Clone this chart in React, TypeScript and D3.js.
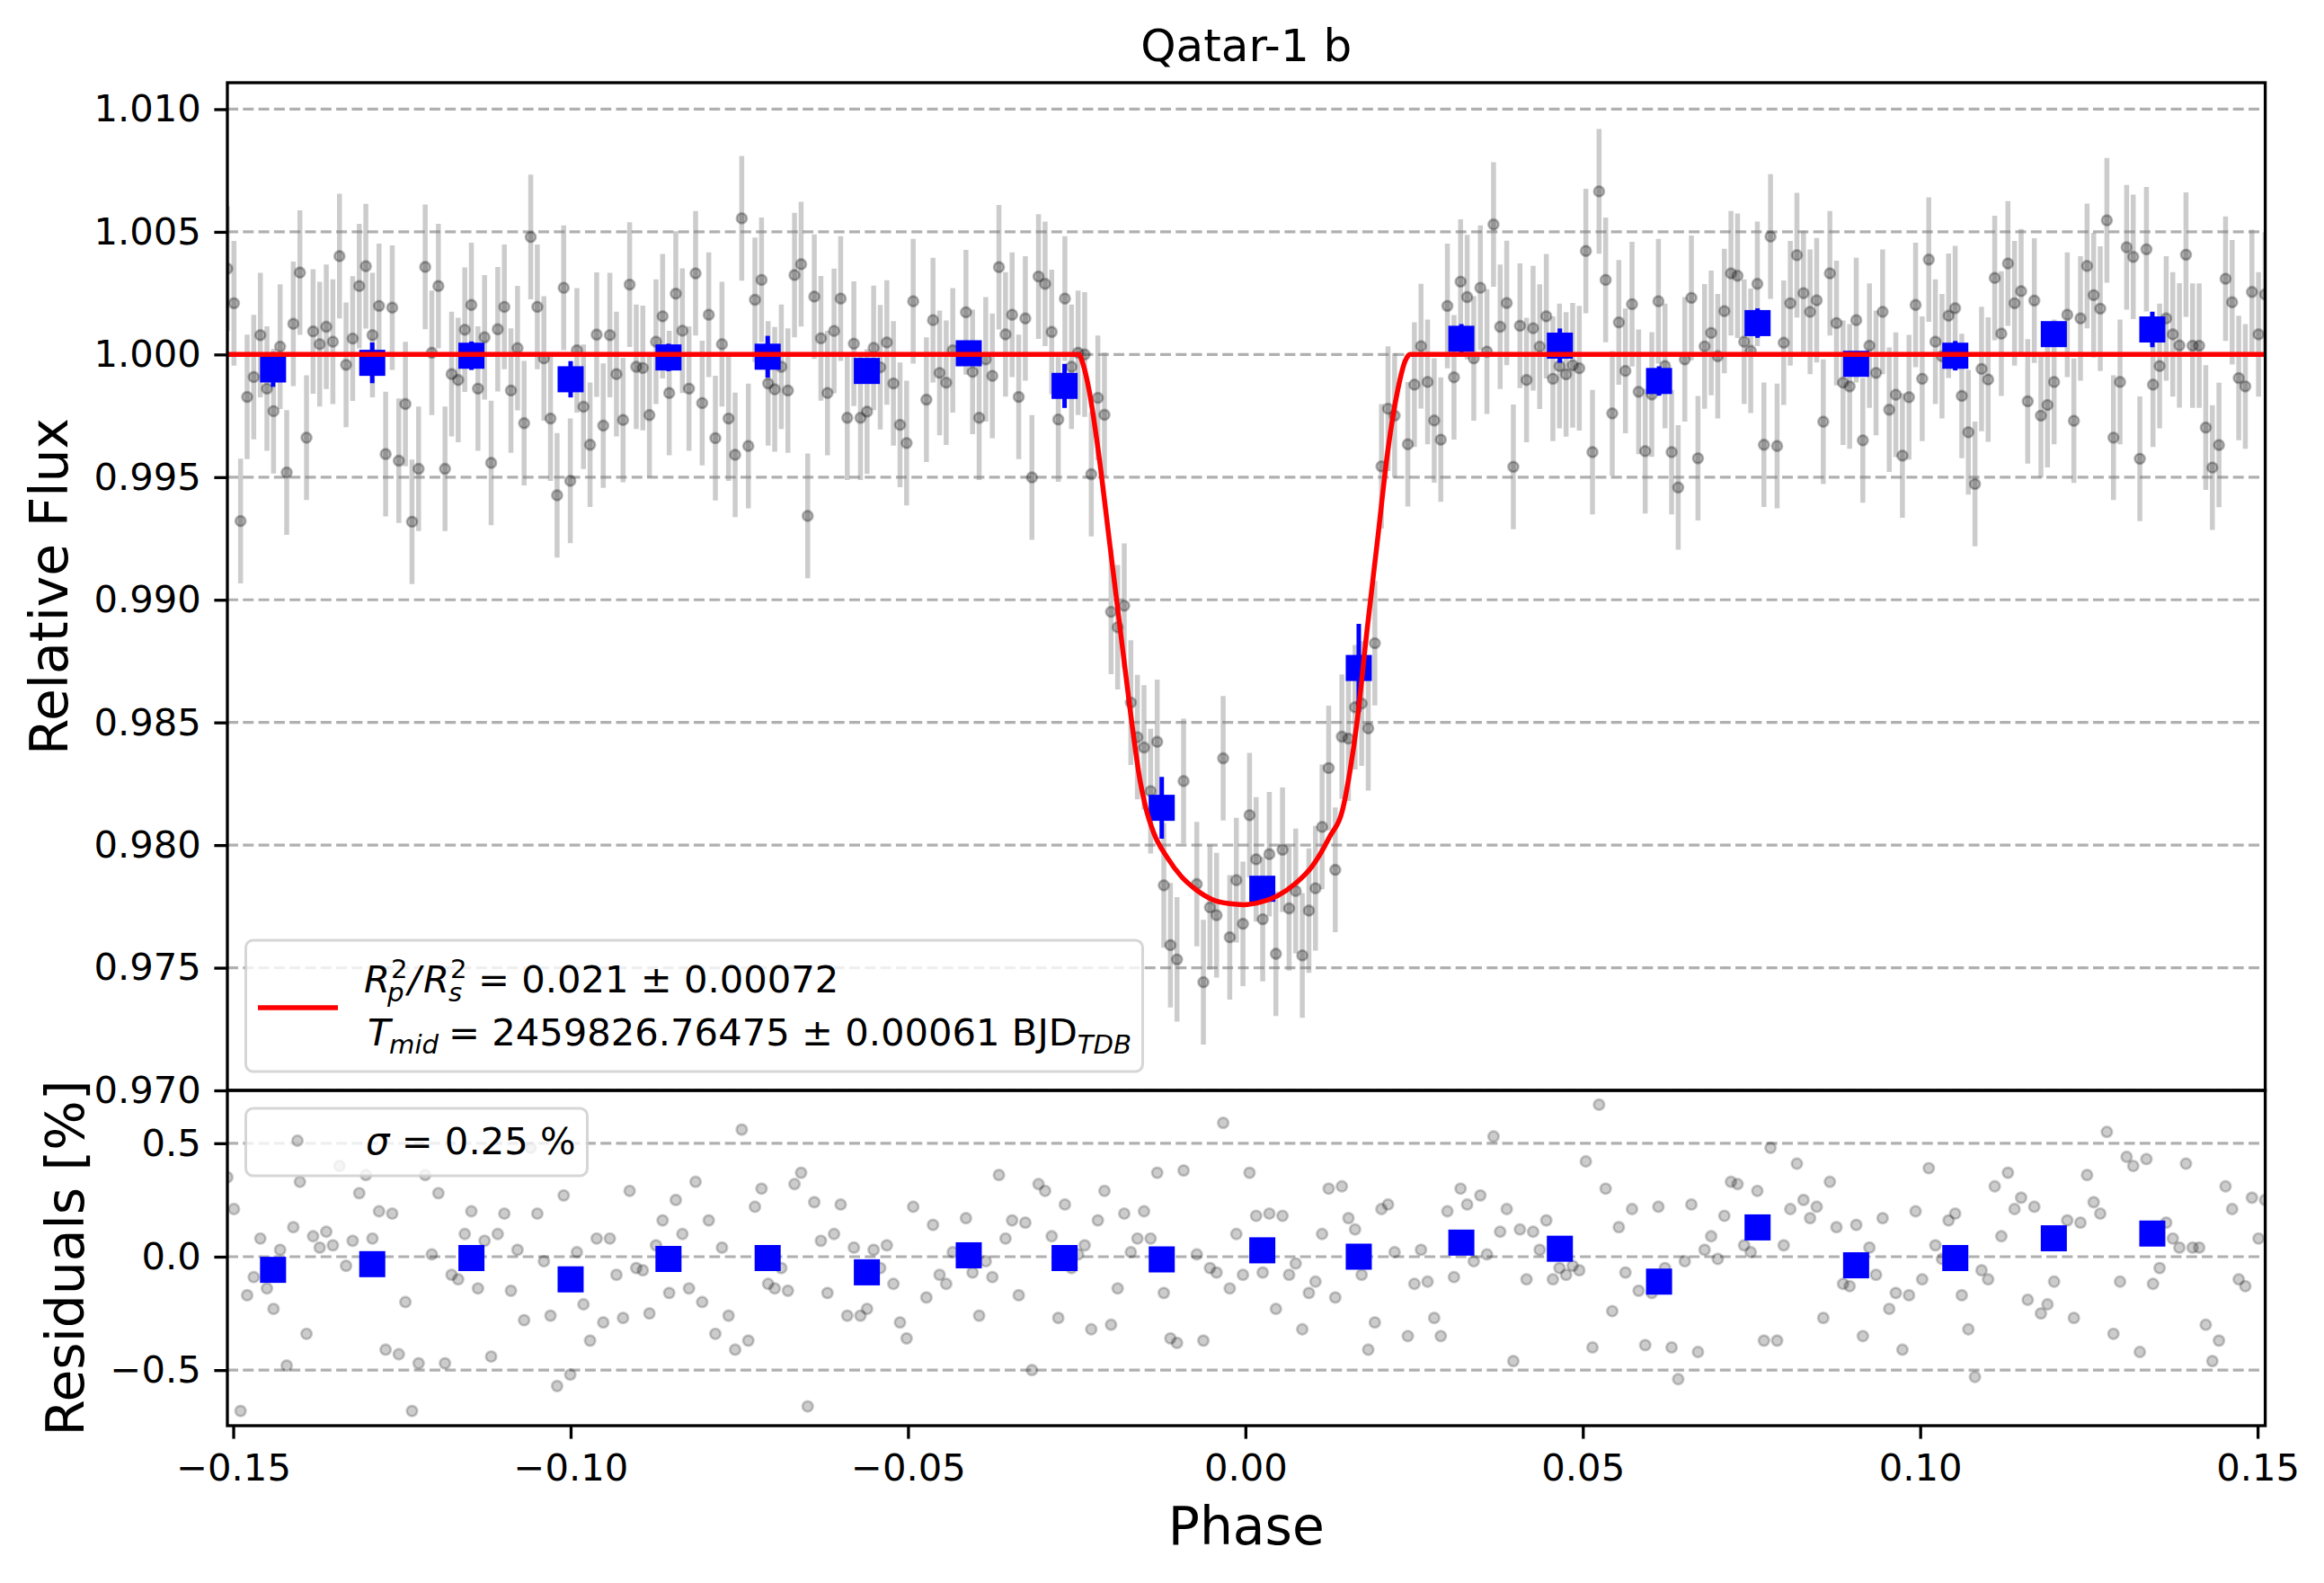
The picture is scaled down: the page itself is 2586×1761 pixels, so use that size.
import React, { useEffect, useRef } from 'react';
import * as d3 from 'd3';

// phase grid of the 2-min cadence light curve
const PHASE_START = -0.15087;
const PHASE_STEP = 0.0009773;

// relative flux per cadence (null = gap)
const FLUX: (number | null)[] = [
  1.0035, 1.00209, 0.99321, 0.99827, 0.99908, 1.00079, 0.99861, 0.99769, 1.00032, 0.99519,
  1.00125, 1.00334, 0.99661, 1.00094, 1.00042, 1.00113, 1.00052, 1.00401, 0.99958, 1.00065,
  1.00279, 1.0036, 1.00079, 1.00198, 0.99594, 1.00191, 0.99567, 0.99798, 0.99318, 0.99534,
  1.00357, 1.00007, 1.00279, 0.99534, 0.9992, 0.99896, 1.00101, 1.00202, 0.99861, 1.0007,
  0.99558, 1.00103, 1.00194, 0.99853, 1.00026, 0.9972, 1.00479, 1.00194, 0.99984, 0.99739,
  0.99426, 1.00272, 0.99485, 1.00017, 0.99787, 0.99632, 1.00081, 0.9971, 1.00079, 0.9992,
  0.99733, 1.00285, 0.9995, 0.99945, 0.99753, 1.00052, 1.00156, 0.99843, 1.00248, 1.00097,
  0.99861, 1.00331, 0.99802, 1.00162, 0.99659, 1.00042, 0.99739, 0.99591, 1.00555, 0.99627,
  1.00223, 1.00304, 0.99882, 0.99858, 0.9995, 0.99853, 1.00324, 1.00368, 0.99342, 1.00236,
  1.00066, 0.99843, 1.00096, 1.00228, 0.99742, 1.00044, 0.99742, 0.99767, 1.00027, 0.99948,
  1.00049, 0.99882, 0.99713, 0.99639, 1.00217, null, 0.99816, 1.0014, 0.99925, 0.99885,
  1.00017, null, 1.00172, 0.99929, 0.99742, 0.9998, 0.99913, 1.00356, 1.00082, 1.00162,
  0.99827, 1.00147, 0.99499, 1.00318, 1.00288, 1.00092, 0.99735, 1.00228, 0.9995, 1.00007,
  1.0, 0.99512, 0.99823, 0.99754, 0.98951, 0.98888, 0.98976, 0.98581, 0.9844, 0.98398,
  0.9822, 0.98421, 0.97836, 0.97592, 0.97534, 0.98261, null, 0.97841, 0.97441, 0.97746,
  0.97714, 0.98354, 0.97624, 0.97857, 0.97679, 0.98122, 0.97942, 0.97698, 0.97963, 0.97557,
  0.97981, 0.97742, 0.97813, 0.9755, 0.97733, 0.97824, 0.98074, 0.98314, 0.97899, 0.98442,
  0.98434, 0.98562, 0.98577, 0.98476, 0.98823, 0.99544, 0.99779, 0.99751, null, 0.99634,
  0.99877, 1.00034, 0.99888, 0.99731, 0.99653, 1.00198, 0.99907, 1.00297, 1.00234, 0.99984,
  1.00272, 1.00012, 1.0053, 1.00113, 1.0021, 0.99542, 1.00117, 0.99896, 1.00107, 1.00032,
  1.00156, 0.99901, 0.99953, 0.99919, 0.99956, 0.99944, 1.00422, 0.99602, 1.00665, 1.00304,
  0.9976, 1.00131, 0.99933, 1.00205, 0.99848, 0.99606, 0.99837, 1.00217, 0.99953, 0.99602,
  0.99458, 0.9998, 1.00231, 0.99577, 1.00033, 1.00088, 0.99993, 1.00177, 1.00331, 1.00321,
  1.00052, 1.00015, 1.00288, 0.99632, 1.00481, 0.99627, 1.00048, 1.00209, 1.00405, 1.0025,
  1.00174, 1.00221, 0.99726, 1.00331, 1.00128, 0.99885, 0.9987, 1.0014, 0.9965, 1.00036,
  0.99925, 1.00174, 0.99775, 0.99836, 0.99588, 0.99826, 1.00202, 0.99901, 1.00387, 1.00052,
  0.99993, 1.00158, 1.00189, 0.99831, 0.99683, 0.99472, 0.99941, 0.99898, 1.00312, 1.00085,
  1.00371, 1.00209, 1.00258, 0.99809, 1.0022, 0.99751, 0.99794, 0.99888, null, 1.00162,
  0.9973, 1.00147, 1.00361, 1.00242, 1.00187, 1.00547, 0.99661, 0.99888, 1.00437, 1.00398,
  0.99575, 1.00429, 0.99877, 0.99953, 1.00147, 1.00082, 1.00037, 1.00407, 1.00036, 1.00036,
  0.99702, 0.99539, 0.99631, 1.00309, 1.00213, 0.99904, 0.9987, 1.00255, 1.00082, 1.00245,
];
const FLUX_ERR = 0.00254;

// residuals in percent, same cadences
const RESIDUAL: (number | null)[] = [
  0.35, 0.21, -0.68, -0.17, -0.09, 0.08, -0.14, -0.23, 0.03, -0.48,
  0.13, 0.33, -0.34, 0.09, 0.04, 0.11, 0.05, 0.4, -0.04, 0.07,
  0.28, 0.36, 0.08, 0.2, -0.41, 0.19, -0.43, -0.2, -0.68, -0.47,
  0.36, 0.01, 0.28, -0.47, -0.08, -0.1, 0.1, 0.2, -0.14, 0.07,
  -0.44, 0.1, 0.19, -0.15, 0.03, -0.28, 0.48, 0.19, -0.02, -0.26,
  -0.57, 0.27, -0.52, 0.02, -0.21, -0.37, 0.08, -0.29, 0.08, -0.08,
  -0.27, 0.29, -0.05, -0.06, -0.25, 0.05, 0.16, -0.16, 0.25, 0.1,
  -0.14, 0.33, -0.2, 0.16, -0.34, 0.04, -0.26, -0.41, 0.56, -0.37,
  0.22, 0.3, -0.12, -0.14, -0.05, -0.15, 0.32, 0.37, -0.66, 0.24,
  0.07, -0.16, 0.1, 0.23, -0.26, 0.04, -0.26, -0.23, 0.03, -0.05,
  0.05, -0.12, -0.29, -0.36, 0.22, null, -0.18, 0.14, -0.08, -0.12,
  0.02, null, 0.17, -0.07, -0.26, -0.02, -0.09, 0.36, 0.08, 0.16,
  -0.17, 0.15, -0.5, 0.32, 0.29, 0.09, -0.27, 0.23, -0.05, 0.01,
  0.05, -0.32, 0.16, 0.29, -0.3, -0.14, 0.19, 0.02, 0.08, 0.2,
  0.08, 0.37, -0.16, -0.36, -0.38, 0.38, null, 0.01, -0.37, -0.05,
  -0.07, 0.59, -0.14, 0.1, -0.08, 0.37, 0.18, -0.07, 0.19, -0.23,
  0.18, -0.08, -0.03, -0.32, -0.16, -0.11, 0.1, 0.3, -0.18, 0.31,
  0.17, 0.12, -0.08, -0.41, -0.29, 0.21, 0.23, 0.02, null, -0.35,
  -0.12, 0.03, -0.11, -0.27, -0.35, 0.2, -0.09, 0.3, 0.23, -0.02,
  0.27, 0.01, 0.53, 0.11, 0.21, -0.46, 0.12, -0.1, 0.11, 0.03,
  0.16, -0.1, -0.05, -0.08, -0.04, -0.06, 0.42, -0.4, 0.67, 0.3,
  -0.24, 0.13, -0.07, 0.21, -0.15, -0.39, -0.16, 0.22, -0.05, -0.4,
  -0.54, -0.02, 0.23, -0.42, 0.03, 0.09, -0.01, 0.18, 0.33, 0.32,
  0.05, 0.02, 0.29, -0.37, 0.48, -0.37, 0.05, 0.21, 0.41, 0.25,
  0.17, 0.22, -0.27, 0.33, 0.13, -0.12, -0.13, 0.14, -0.35, 0.04,
  -0.08, 0.17, -0.23, -0.16, -0.41, -0.17, 0.2, -0.1, 0.39, 0.05,
  -0.01, 0.16, 0.19, -0.17, -0.32, -0.53, -0.06, -0.1, 0.31, 0.09,
  0.37, 0.21, 0.26, -0.19, 0.22, -0.25, -0.21, -0.11, null, 0.16,
  -0.27, 0.15, 0.36, 0.24, 0.19, 0.55, -0.34, -0.11, 0.44, 0.4,
  -0.42, 0.43, -0.12, -0.05, 0.15, 0.08, 0.04, 0.41, 0.04, 0.04,
  -0.3, -0.46, -0.37, 0.31, 0.21, -0.1, -0.13, 0.26, 0.08, 0.25,
];

// binned points (blue squares)
const BIN_PHASE = [
  -0.1441, -0.1294, -0.1147, -0.1, -0.0855, -0.0708, -0.0561, -0.041, -0.0268, -0.0124,
  0.0025, 0.0168, 0.032, 0.0466, 0.0613, 0.0759, 0.0905, 0.1052, 0.1198, 0.1344,
];
const BIN_FLUX = [
  0.99939, 0.99966, 0.99995, 0.99899, 0.99988, 0.99991, 0.99933, 1.00005, 0.99872, 0.98152,
  0.97822, 0.98722, 1.00064, 1.00036, 0.99892, 1.00128, 0.99962, 0.99995, 1.00083, 1.00102,
];
const BIN_ERR = [
  0.00071, 0.00083, 0.00058, 0.00074, 0.00056, 0.00085, 0.0004, 0.0004, 0.0009, 0.00126,
  0.0004, 0.0018, 0.0006, 0.0007, 0.0006, 0.0006, 0.0005, 0.0006, 0.0005, 0.00072,
];
const BIN_RESIDUAL = [
  -0.058, -0.033, -0.006, -0.1, -0.01, -0.006, -0.069, 0.006, -0.006, -0.012,
  0.028, 0.0, 0.062, 0.035, -0.11, 0.129, -0.038, -0.006, 0.081, 0.102,
];

// transit model (red line)
const MODEL_PHASE = [
  -0.1509, -0.0247, -0.024, -0.0232, -0.0217, -0.0202, -0.0187, -0.0171, -0.0156, -0.0148,
  -0.0136, -0.0115, -0.0095, -0.0074, -0.0049, -0.0023, -0.0003, 0.0022, 0.0048, 0.0073,
  0.0099, 0.0124, 0.0145, 0.0155, 0.0165, 0.018, 0.0196, 0.0211, 0.0226, 0.0237, 0.0244, 0.1512,
];
const MODEL_FLUX = [
  1.0, 1.0, 0.99955, 0.99859, 0.99586, 0.99249, 0.98913, 0.98555, 0.98261, 0.98156,
  0.98051, 0.97946, 0.97872, 0.9782, 0.97778, 0.97761, 0.97757, 0.97767, 0.97794, 0.97841,
  0.97914, 0.9803, 0.98156, 0.98303, 0.98492, 0.98871, 0.99249, 0.99607, 0.99859, 0.99975, 1.0, 1.0,
];

const FLUX_TICKS = [0.97, 0.975, 0.98, 0.985, 0.99, 0.995, 1.0, 1.005, 1.01];
const RESID_TICKS = [-0.5, 0, 0.5];
const PHASE_TICKS = [-0.15, -0.1, -0.05, 0, 0.05, 0.1, 0.15];

const W = 2586;
const H = 1761;
const LEFT = 253;
const RIGHT = 2520.6;
const TOP = 92;
const SPLIT = 1213;
const BOTTOM = 1586;
const FONT = 'DejaVu Sans';

const App: React.FC = () => {
  const svgRef = useRef<SVGSVGElement | null>(null);

  useEffect(() => {
    const svg = d3.select(svgRef.current);
    svg.selectAll('*').remove();

    const x = d3.scaleLinear().domain([-0.15087, 0.15113]).range([LEFT, RIGHT]);
    const yMain = d3.scaleLinear().domain([0.97, 1.01108]).range([SPLIT, TOP]);
    const yRes = d3.scaleLinear().domain([-0.745, 0.733]).range([BOTTOM, SPLIT]);

    const points = FLUX.map((f, i) => ({
      phase: PHASE_START + i * PHASE_STEP,
      flux: f,
      res: RESIDUAL[i],
    })).filter(d => d.flux !== null) as { phase: number; flux: number; res: number }[];

    const bins = BIN_PHASE.map((p, i) => ({
      phase: p, flux: BIN_FLUX[i], err: BIN_ERR[i], res: BIN_RESIDUAL[i],
    }));

    const defs = svg.append('defs');
    defs.append('clipPath').attr('id', 'clip-main')
      .append('rect').attr('x', LEFT).attr('y', TOP).attr('width', RIGHT - LEFT).attr('height', SPLIT - TOP);
    defs.append('clipPath').attr('id', 'clip-res')
      .append('rect').attr('x', LEFT).attr('y', SPLIT).attr('width', RIGHT - LEFT).attr('height', BOTTOM - SPLIT);

    const grid = (g: d3.Selection<SVGGElement, unknown, null, undefined>, ticks: number[], y: d3.ScaleLinear<number, number>) => {
      g.selectAll('line').data(ticks).join('line')
        .attr('x1', LEFT).attr('x2', RIGHT)
        .attr('y1', d => y(d)).attr('y2', d => y(d))
        .attr('stroke', '#b0b0b0').attr('stroke-width', 3.2)
        .attr('stroke-dasharray', '12,5.3');
    };

    // ---- main panel
    const main = svg.append('g').attr('clip-path', 'url(#clip-main)');
    grid(main.append('g'), FLUX_TICKS, yMain);

    main.append('g').selectAll('line').data(points).join('line')
      .attr('x1', d => x(d.phase)).attr('x2', d => x(d.phase))
      .attr('y1', d => yMain(d.flux - FLUX_ERR)).attr('y2', d => yMain(d.flux + FLUX_ERR))
      .attr('stroke', '#808080').attr('stroke-opacity', 0.4).attr('stroke-width', 5.5);

    main.append('g').selectAll('circle').data(points).join('circle')
      .attr('cx', d => x(d.phase)).attr('cy', d => yMain(d.flux)).attr('r', 5.6)
      .attr('fill', '#000').attr('fill-opacity', 0.27)
      .attr('stroke', '#000').attr('stroke-opacity', 0.27).attr('stroke-width', 2.6);

    main.append('g').selectAll('line').data(bins).join('line')
      .attr('x1', d => x(d.phase)).attr('x2', d => x(d.phase))
      .attr('y1', d => yMain(d.flux - d.err)).attr('y2', d => yMain(d.flux + d.err))
      .attr('stroke', '#0000ff').attr('stroke-width', 5);

    main.append('g').selectAll('rect').data(bins).join('rect')
      .attr('x', d => x(d.phase) - 14.5).attr('y', d => yMain(d.flux) - 14.5)
      .attr('width', 29).attr('height', 29).attr('fill', '#0000ff');

    const model = MODEL_PHASE.map((p, i) => [p, MODEL_FLUX[i]] as [number, number]);
    main.append('path')
      .attr('d', d3.line<[number, number]>().x(d => x(d[0])).y(d => yMain(d[1])).curve(d3.curveMonotoneX)(model))
      .attr('fill', 'none').attr('stroke', '#ff0000').attr('stroke-width', 5.5)
      .attr('stroke-linejoin', 'round');

    // ---- residual panel
    const resid = svg.append('g').attr('clip-path', 'url(#clip-res)');
    grid(resid.append('g'), RESID_TICKS, yRes);

    resid.append('g').selectAll('circle').data(points.filter(d => d.res !== null)).join('circle')
      .attr('cx', d => x(d.phase)).attr('cy', d => yRes(d.res)).attr('r', 5.8)
      .attr('fill', '#000').attr('fill-opacity', 0.2)
      .attr('stroke', '#000').attr('stroke-opacity', 0.2).attr('stroke-width', 2.7);

    resid.append('g').selectAll('rect').data(bins).join('rect')
      .attr('x', d => x(d.phase) - 14.5).attr('y', d => yRes(d.res) - 14.5)
      .attr('width', 29).attr('height', 29).attr('fill', '#0000ff');

    // ---- axes
    const styleAxis = (g: d3.Selection<SVGGElement, unknown, null, undefined>) => {
      g.select('.domain').remove();
      g.selectAll('.tick line').attr('stroke', '#000').attr('stroke-width', 3.3);
      g.selectAll('.tick text').attr('fill', '#000')
        .style('font-size', '41.7px').style('font-family', FONT);
    };

    svg.append('g').attr('transform', `translate(${LEFT},0)`)
      .call(d3.axisLeft(yMain).tickValues(FLUX_TICKS).tickFormat(d3.format('.3f')).tickSize(14.6).tickPadding(14.6))
      .call(styleAxis);

    svg.append('g').attr('transform', `translate(${LEFT},0)`)
      .call(d3.axisLeft(yRes).tickValues(RESID_TICKS).tickFormat(d3.format('.1f')).tickSize(14.6).tickPadding(14.6))
      .call(styleAxis);

    svg.append('g').attr('transform', `translate(0,${BOTTOM})`)
      .call(d3.axisBottom(x).tickValues(PHASE_TICKS).tickFormat(d3.format('.2f')).tickSize(14.6).tickPadding(17))
      .call(styleAxis);

    // frames
    svg.append('rect').attr('x', LEFT).attr('y', TOP).attr('width', RIGHT - LEFT).attr('height', SPLIT - TOP)
      .attr('fill', 'none').attr('stroke', '#000').attr('stroke-width', 3.3);
    svg.append('rect').attr('x', LEFT).attr('y', SPLIT).attr('width', RIGHT - LEFT).attr('height', BOTTOM - SPLIT)
      .attr('fill', 'none').attr('stroke', '#000').attr('stroke-width', 3.3);

    // ---- titles and labels
    svg.append('text').attr('x', (LEFT + RIGHT) / 2).attr('y', 68)
      .attr('text-anchor', 'middle').style('font-family', FONT).style('font-size', '50px')
      .text('Qatar-1 b');

    svg.append('text').attr('x', (LEFT + RIGHT) / 2).attr('y', 1718)
      .attr('text-anchor', 'middle').style('font-family', FONT).style('font-size', '58.3px')
      .text('Phase');

    svg.append('text').attr('transform', `translate(75,${(TOP + SPLIT) / 2}) rotate(-90)`)
      .attr('text-anchor', 'middle').style('font-family', FONT).style('font-size', '58.3px')
      .text('Relative Flux');

    svg.append('text').attr('transform', `translate(93,${(SPLIT + BOTTOM) / 2}) rotate(-90)`)
      .attr('text-anchor', 'middle').style('font-family', FONT).style('font-size', '58.3px')
      .text('Residuals [%]');

    // ---- legend (main)
    const leg = svg.append('g').style('font-family', FONT);
    leg.append('rect').attr('x', 273.5).attr('y', 1046).attr('width', 998).attr('height', 146).attr('rx', 8)
      .attr('fill', '#fff').attr('fill-opacity', 0.8)
      .attr('stroke', '#cccccc').attr('stroke-opacity', 0.8).attr('stroke-width', 3);
    leg.append('line').attr('x1', 287).attr('x2', 376).attr('y1', 1121).attr('y2', 1121)
      .attr('stroke', '#ff0000').attr('stroke-width', 5.5);

    // R_p^2 / R_s^2 = ... as one text with positioned tspans
    const l1 = leg.append('text').style('font-size', '41.7px');
    const span = (
      t: d3.Selection<SVGTextElement, unknown, null, undefined>,
      s: string, px: number, py: number, size: number, italic = false,
    ) => t.append('tspan').attr('x', px).attr('y', py)
      .style('font-size', `${size}px`).style('font-style', italic ? 'italic' : 'normal').text(s);

    span(l1, 'R', 405, 1104, 41.7, true);
    span(l1, '2', 435, 1088, 29.2);
    span(l1, 'p', 431, 1114, 29.2, true);
    span(l1, '/', 454, 1104, 41.7, true);
    span(l1, 'R', 471, 1104, 41.7, true);
    span(l1, '2', 501, 1088, 29.2);
    span(l1, 's', 499, 1114, 29.2, true);
    span(l1, '= 0.021 ± 0.00072', 532, 1104, 41.7);

    const l2 = leg.append('text').style('font-size', '41.7px');
    span(l2, 'T', 409, 1163, 41.7, true);
    span(l2, 'mid', 433, 1172, 29.2, true);
    span(l2, '= 2459826.76475 ± 0.00061 BJD', 499, 1163, 41.7);
    l2.append('tspan').attr('dy', 9).style('font-size', '29.2px').style('font-style', 'italic').text('TDB');

    // ---- legend (residuals)
    const leg2 = svg.append('g').style('font-family', FONT);
    leg2.append('rect').attr('x', 273.5).attr('y', 1233).attr('width', 380).attr('height', 75).attr('rx', 8)
      .attr('fill', '#fff').attr('fill-opacity', 0.8)
      .attr('stroke', '#cccccc').attr('stroke-opacity', 0.8).attr('stroke-width', 3);
    leg2.append('circle').attr('cx', 331).attr('cy', 1269).attr('r', 5.8)
      .attr('fill', '#000').attr('fill-opacity', 0.2)
      .attr('stroke', '#000').attr('stroke-opacity', 0.2).attr('stroke-width', 2.7);
    const s2 = leg2.append('text').attr('x', 407).attr('y', 1284).style('font-size', '41.7px');
    s2.append('tspan').style('font-style', 'italic').text('σ');
    s2.append('tspan').text(' = 0.25 %');
  }, []);

  return (
    <svg
      ref={svgRef}
      width={W}
      height={H}
      style={{ position: 'absolute', left: 0, top: 0, background: '#fff' }}
    />
  );
};

export default App;
